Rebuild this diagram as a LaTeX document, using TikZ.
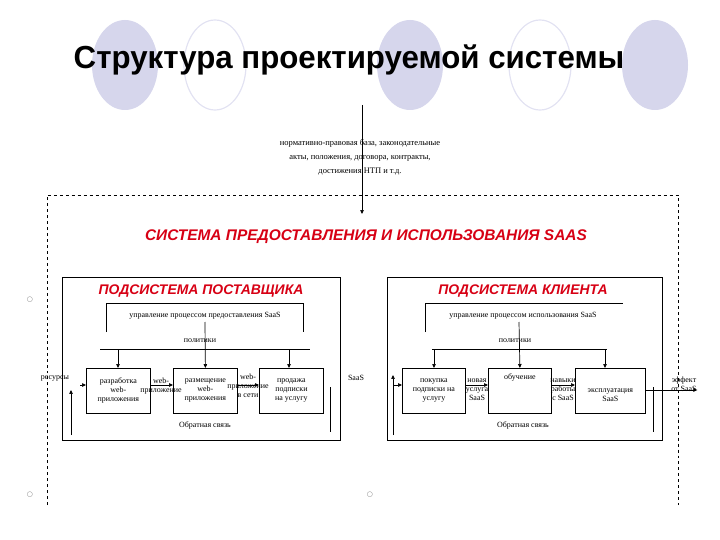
\documentclass[tikz,border=0pt]{standalone}
\usepackage{fontspec}
\setmainfont{Liberation Serif}
\newfontfamily\arialf{Liberation Sans}
\newfontfamily\dejavu{DejaVu Sans}
\usetikzlibrary{arrows.meta}
\definecolor{lav}{RGB}{214,214,236}
\definecolor{redt}{RGB}{215,0,20}
\tikzset{
 sm/.style={font=\fontsize{8}{9}\selectfont,inner sep=0.5pt,align=center},
 blk/.style={draw,line width=0.8pt,minimum width=64bp,minimum height=45bp,anchor=north west,inner sep=0pt},
 sub/.style={draw,line width=0.8pt,anchor=north west,inner sep=0pt},
 arr/.style={-{Triangle[length=4pt,width=3.5pt]},line width=0.7pt},
 ln/.style={line width=0.7pt},
 rt/.style={font=\arialf\bfseries\itshape\fontsize{14}{15}\selectfont,text=redt},
 bul/.style={font=\dejavu\fontsize{7}{8}\selectfont,text=gray}
}
\begin{document}
\begin{tikzpicture}[x=1bp,y=-1bp]
\useasboundingbox (0,0) rectangle (720,540);
% circles
\fill[lav] (125,65) ellipse (33 and 45);
\draw[lav!70!white,line width=1.2pt] (215,65) ellipse (31 and 45);
\fill[lav] (410,65) ellipse (33 and 45);
\draw[lav!70!white,line width=1.2pt] (540,65) ellipse (31 and 45);
\fill[lav] (655,65) ellipse (33 and 45);
\node[font=\arialf\bfseries\fontsize{32}{34}\selectfont,xscale=0.98] (title) at (349,60) {Структура проектируемой системы};
% top text
\node[sm,font=\fontsize{8.5}{14}\selectfont] (norm) at (360,157) {нормативно-правовая база, законодательные\\акты, положения, договора, контракты,\\достижения НТП и т.д.};
\coordinate (topin) at (362,105);
\coordinate (topout) at (362,214);
\draw[arr] (topin) -- (topout);
% outer dashed
\draw[dashed,line width=0.6pt] (47,505) -- (47,195) -- (678,195) -- (678,505);
\node[rt,font=\arialf\bfseries\itshape\fontsize{15.5}{16}\selectfont] (sys) at (366,237) {СИСТЕМА ПРЕДОСТАВЛЕНИЯ И ИСПОЛЬЗОВАНИЯ SAAS};
\node[bul] (b1) at (30,300) {○};
\node[bul] (b2) at (30,495) {○};
\node[bul] (b3) at (370,495) {○};
% ===== left subsystem
\node[sub,minimum width=278bp,minimum height=163bp] (L) at (62,277) {};
\node[rt] (Lt) at (201,291) {ПОДСИСТЕМА ПОСТАВЩИКА};
\draw[ln] (106,332) -- (106,303) -- (303,303) -- (303,332);
\node[sm] (Lm) at (205,316) {управление процессом предоставления SaaS};
\node[sm] (Lp) at (200,341) {политики};
\draw[ln] (100,349) -- (310,349);
\node[blk] (L1) at (86,368) {};
\node[blk] (L2) at (173,368) {};
\node[blk] (L3) at (259,368) {};
\node[sm] at (L1.center) {разработка\\web-\\приложения};
\node[sm] at (L2.center) {размещение\\web-\\приложения};
\node[sm] at (L3.center) {продажа\\подписки\\на услугу};
\draw[arr] (205,322) -- (L2.north);
\draw[arr] (118,349) -- (118,368);
\draw[arr] (289,349) -- (289,368);
\draw[arr] (L1.east |- 0,385) -- (L2.west |- 0,385);
\draw[arr] (L2.east |- 0,385) -- (L3.west |- 0,385);
\node[sm] (w1) at (161,386) {web-\\приложение};
\node[sm] (w2) at (248,386) {web-\\приложение\\в сети};
\node[sm] (res) at (55,378) {ресурсы};
\coordinate (Lin) at (80,385);
\draw[arr] (Lin) -- (L1.west |- Lin);
\draw[arr] (71,435) -- (71,390);
\draw[ln] (330,387) -- (330,432);
\node[sm] (Lfb) at (205,425) {Обратная связь};
\node[sm] (saas) at (356,378) {SaaS};
% ===== right subsystem
\node[sub,minimum width=275bp,minimum height=163bp] (R) at (387,277) {};
\node[rt] (Rt) at (523,291) {ПОДСИСТЕМА КЛИЕНТА};
\draw[ln] (425,332) -- (425,303) -- (623,303);
\node[sm] (Rm) at (523,316) {управление процессом использования SaaS};
\node[sm] (Rp) at (515,341) {политики};
\draw[ln] (432,349) -- (607,349);
\node[blk,minimum width=63bp] (R1) at (402,368) {};
\node[blk,minimum width=63bp] (R2) at (488,368) {};
\node[blk,minimum width=70bp] (R3) at (575,368) {};
\node[sm] at (R1.center) {покупка\\подписки на\\услугу};
\node[sm,anchor=north] at ([yshift=-5bp]R2.north) {обучение};
\node[sm] at ([yshift=-4bp]R3.center) {эксплуатация\\SaaS};
\draw[arr] (519,322) -- (R2.north);
\draw[arr] (434,349) -- (434,368);
\draw[arr] (605,349) -- (605,368);
\draw[arr] (R1.east |- 0,385) -- (R2.west |- 0,385);
\draw[arr] (R2.east |- 0,385) -- (R3.west |- 0,385);
\node[sm] (u1) at (477,390) {новая\\услуга\\SaaS};
\node[sm] (u2) at (563,390) {навыки\\работы\\с SaaS};
\coordinate (Rin) at (393,385);
\draw[arr] (Rin) -- (R1.west |- Rin);
\draw[arr] (393,435) -- (393,375);
\draw[ln] (653,387) -- (653,432);
\node[sm] (Rfb) at (523,425) {Обратная связь};
\node[sm] (eff) at (684,384) {эффект\\от SaaS};
\draw[arr] (R3.east |- 0,390) -- (eff.east |- 0,390);
\end{tikzpicture}
\end{document}
